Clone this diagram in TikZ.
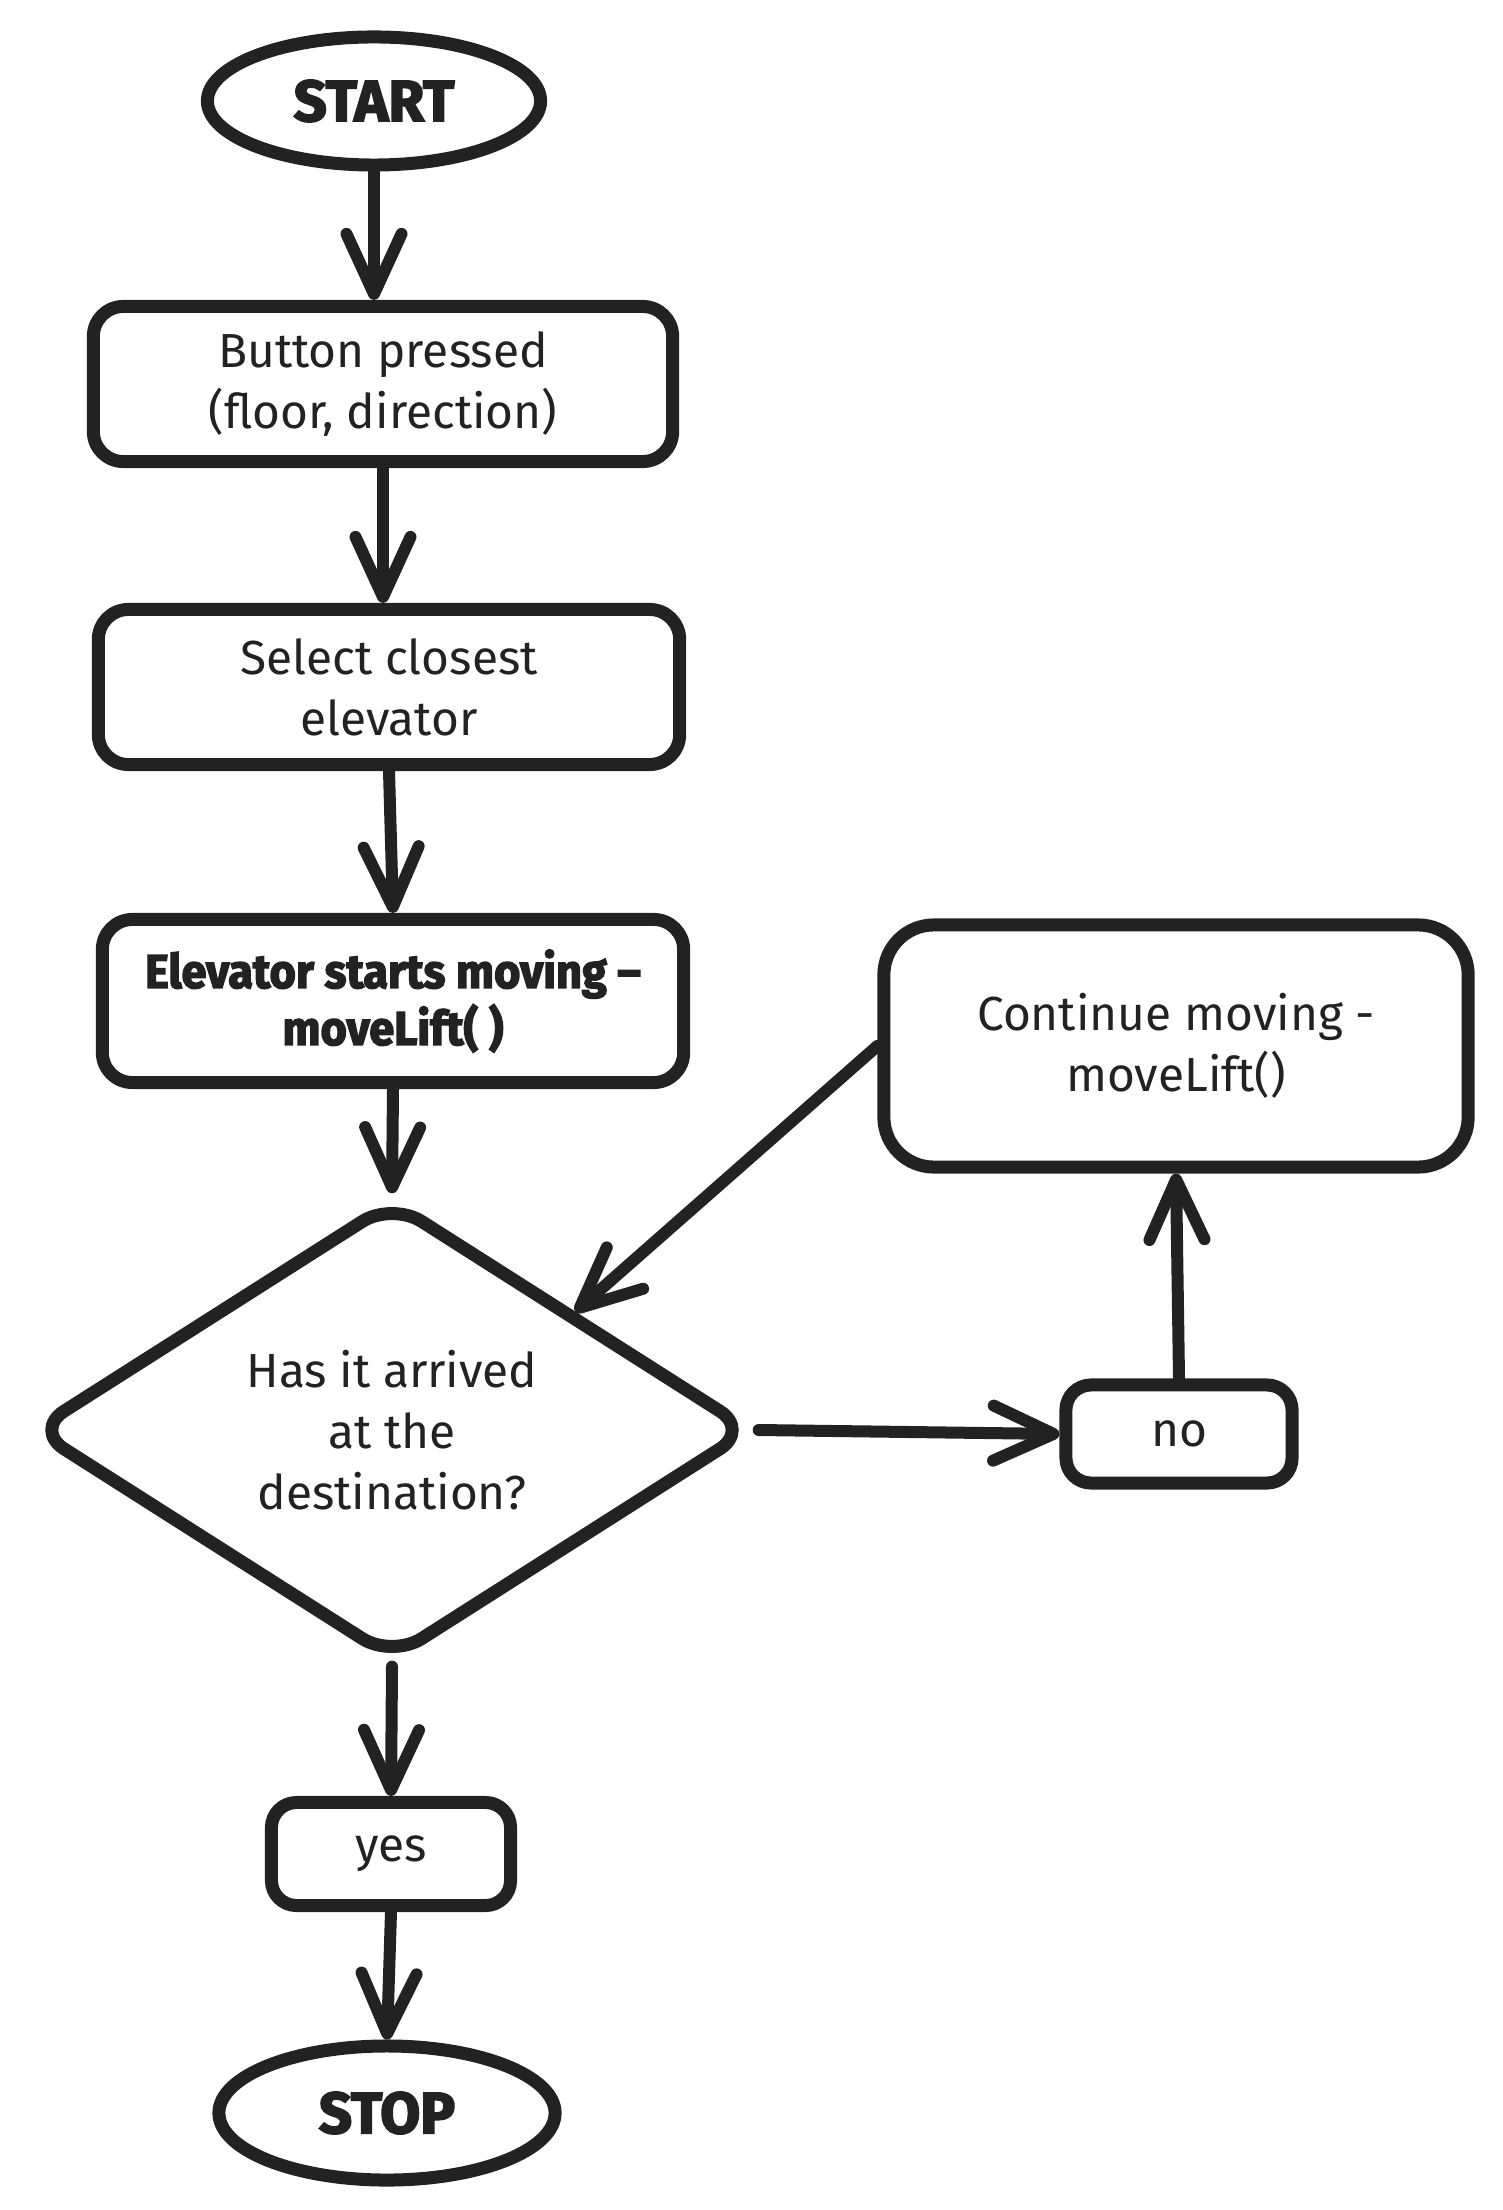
\documentclass[tikz,border=0pt]{standalone}
\usepackage{fontspec}
\setmainfont{Fira Sans}
\newfontfamily\heavy{Fira Sans}[BoldFeatures={FakeBold=3}]
\newfontfamily\heavyc{Fira Sans}[BoldFeatures={FakeBold=3}, FakeStretch=0.95]
\usetikzlibrary{shapes.geometric,arrows.meta}
\definecolor{ink}{HTML}{222222}
\begin{document}
\begin{tikzpicture}[x=0.01cm,y=-0.01cm,
  every node/.style={text=ink, align=center, font=\fontsize{13.6}{17.4}\selectfont},
  shapeline/.style={draw=ink, line width=0.13cm, fill=white},
  procbox/.style={shapeline, rectangle, rounded corners=0.3cm, inner sep=0},
  terminal/.style={shapeline, ellipse, inner sep=0, font=\heavy\bfseries\fontsize{16.5}{18}\selectfont},
  decision/.style={shapeline, diamond, rounded corners=0.35cm, inner sep=0},
  flow/.style={draw=ink, line width=0.12cm, line cap=round, -{Straight Barb[length=0.6cm,width=0.55cm,line cap=round,line join=round]}}
]
\useasboundingbox (0,0) rectangle (1502,2210);
\node[terminal, minimum width=3.33cm, minimum height=1.28cm] (start) at (374,101) {START};
\node[procbox, minimum width=5.79cm, minimum height=1.55cm] (btn) at (383,384) {Button pressed\\(floor, direction)};
\node[procbox, minimum width=5.81cm, minimum height=1.55cm] (sel) at (389,687) {Select closest\\elevator};
\node[procbox, minimum width=5.81cm, minimum height=1.63cm, font=\heavyc\bfseries\fontsize{13.5}{16.2}\selectfont] (mov) at (393,1001) {Elevator starts moving –\\moveLift( )};
\node[decision, minimum width=7.2cm, minimum height=4.6cm] (dec) at (392,1430) {Has it arrived\\at the\\destination?};
\node[procbox, rounded corners=0.5cm, minimum width=5.84cm, minimum height=2.42cm] (cont) at (1176,1046) {Continue moving -\\moveLift()};
\node[procbox, rounded corners=0.25cm, minimum width=2.26cm, minimum height=0.98cm] (no) at (1179,1434) {no};
\node[procbox, rounded corners=0.25cm, minimum width=2.39cm, minimum height=1.03cm] (yes) at (391,1854) {yes};
\node[terminal, minimum width=3.36cm, minimum height=1.34cm] (stop) at (387,2113) {STOP};
\draw[flow] (start.south) -- (start.south |- btn.north);
\draw[flow] (btn.south) -- (btn.south |- sel.north);
\draw[flow] (sel.south) -- (mov.north);
\draw[flow] (mov.south) -- (dec.north);
\draw[flow] (dec.east) -- (no.west);
\draw[flow] (no.north) -- (cont.south);
\draw[flow] (cont.west) -- (dec.north east);
\draw[flow] (dec.south) -- (yes.north);
\draw[flow] (yes.south) -- (stop.north);
\end{tikzpicture}
\end{document}
